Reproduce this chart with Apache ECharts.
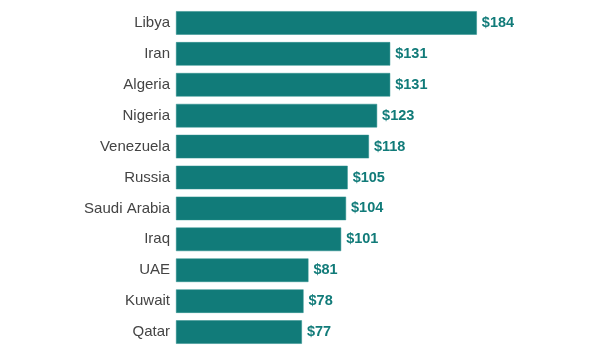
<!DOCTYPE html>
<html><head><meta charset="utf-8">
<script src="https://cdn.jsdelivr.net/npm/echarts@6/dist/echarts.min.js"></script>
<style>html,body{margin:0;padding:0;background:#fff}#c{width:600px;height:362px}</style>
</head><body><div id="c"></div>
<script>
const categories = ["Libya","Iran","Algeria","Nigeria","Venezuela","Russia","Saudi Arabia","Iraq","UAE","Kuwait","Qatar"];
const values = [184,131,131,123,118,105,104,101,81,78,77];
const chart = echarts.init(document.getElementById('c'), null, {renderer:'canvas'});
chart.setOption({
  animation:false,
  grid:{left:176,right:97,top:7.5,bottom:14.5},
  xAxis:{type:'value',min:0,max:200,show:false},
  yAxis:{type:'category',inverse:true,data:categories,
    axisLine:{show:false},axisTick:{show:false},
    axisLabel:{color:'#444',fontFamily:'Liberation Sans, Arial',fontSize:15,margin:6}},
  series:[{type:'bar',data:values,barCategoryGap:'24%',
    itemStyle:{color:'#117b79',borderColor:'#2b8f8c',borderWidth:0.5},
    label:{show:true,position:'right',distance:5,color:'#117b79',fontWeight:'bold',
      fontFamily:'Liberation Sans, Arial',fontSize:14.5,formatter:p=>'$'+p.value}}]
});
</script></body></html>
